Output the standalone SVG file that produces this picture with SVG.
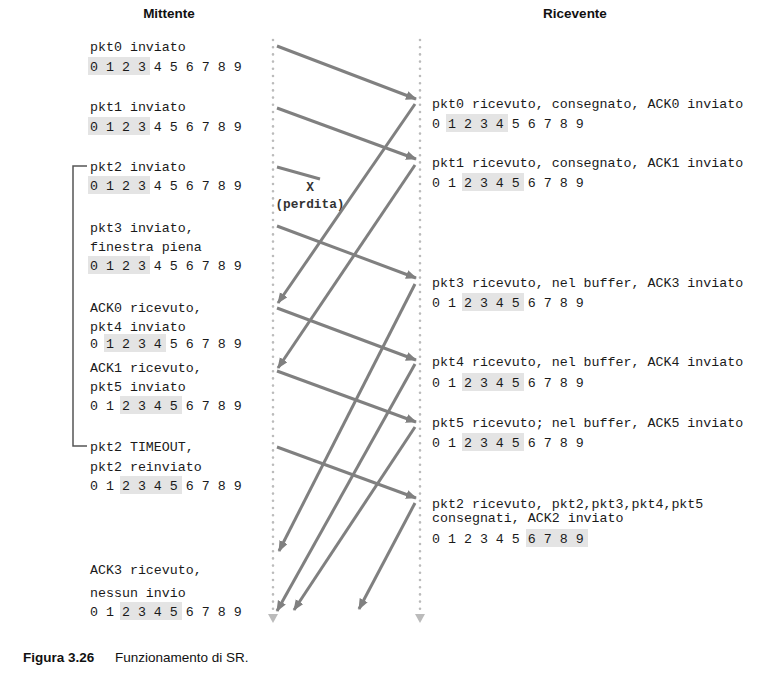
<svg xmlns="http://www.w3.org/2000/svg" width="779" height="690" viewBox="0 0 779 690">
<style>
.t{font-family:"Liberation Mono","DejaVu Sans Mono",monospace;font-size:13.3px;fill:#1a1a1a}
.h{font-family:"Liberation Sans","Open Sans",sans-serif;font-size:13.5px;font-weight:bold;fill:#111}
.c{font-family:"Liberation Sans","Open Sans",sans-serif;font-size:13.5px;fill:#111}
.box{fill:#e4e4e4}
.tl{stroke:#bbb;stroke-width:2.6;stroke-linecap:round;stroke-dasharray:0 7.2;fill:none}
.a{stroke:#808080;stroke-width:3;fill:none;marker-end:url(#ah)}
.lost{stroke:#808080;stroke-width:3;fill:none}
.br{stroke:#555;stroke-width:1.5;fill:none}
.lb{font-family:"Liberation Mono","DejaVu Sans Mono",monospace;font-size:12.8px;font-weight:bold;fill:#333}
</style>
<defs>
<marker id="ah" markerUnits="userSpaceOnUse" markerWidth="12" markerHeight="10" refX="10" refY="4.5" orient="auto">
<path d="M0,0 L11,4.5 L0,9 z" fill="#808080"/>
</marker>
<path id="tri" d="M-5,0 L5,0 L0,9 z" fill="#bbb"/>
</defs>

<g id="headers">
<text class="h" x="169" y="18" text-anchor="middle">Mittente</text>
<text class="h" x="575" y="18" text-anchor="middle">Ricevente</text>
</g>

<g id="timelines">
<line class="tl" x1="273" y1="40" x2="273" y2="610"/>
<use href="#tri" x="273" y="614"/>
<line class="tl" x1="420" y1="40" x2="420" y2="610"/>
<use href="#tri" x="420" y="614"/>
</g>

<g id="bracket">
<path class="br" d="M87,166 H73 V446 H87"/>
</g>

<g id="s-pkt0">
<rect class="box" x="88" y="57" width="62" height="18"/>
<text class="t" x="90" y="51">pkt0 inviato</text>
<text class="t" x="90" y="71">0 1 2 3 4 5 6 7 8 9</text>
</g>
<g id="s-pkt1">
<rect class="box" x="88" y="117" width="62" height="18"/>
<text class="t" x="90" y="111">pkt1 inviato</text>
<text class="t" x="90" y="131">0 1 2 3 4 5 6 7 8 9</text>
</g>
<g id="s-pkt2">
<rect class="box" x="88" y="176" width="62" height="18"/>
<text class="t" x="90" y="171">pkt2 inviato</text>
<text class="t" x="90" y="190">0 1 2 3 4 5 6 7 8 9</text>
</g>
<g id="s-pkt3">
<rect class="box" x="88" y="256" width="62" height="18"/>
<text class="t" x="90" y="232">pkt3 inviato,</text>
<text class="t" x="90" y="251">finestra piena</text>
<text class="t" x="90" y="270">0 1 2 3 4 5 6 7 8 9</text>
</g>
<g id="s-ack0">
<rect class="box" x="104" y="334" width="62" height="18"/>
<text class="t" x="90" y="312">ACK0 ricevuto,</text>
<text class="t" x="90" y="331">pkt4 inviato</text>
<text class="t" x="90" y="348">0 1 2 3 4 5 6 7 8 9</text>
</g>
<g id="s-ack1">
<rect class="box" x="120" y="396" width="62" height="18"/>
<text class="t" x="90" y="372">ACK1 ricevuto,</text>
<text class="t" x="90" y="391">pkt5 inviato</text>
<text class="t" x="90" y="410">0 1 2 3 4 5 6 7 8 9</text>
</g>
<g id="s-timeout">
<rect class="box" x="120" y="476" width="62" height="18"/>
<text class="t" x="90" y="451">pkt2 TIMEOUT,</text>
<text class="t" x="90" y="471">pkt2 reinviato</text>
<text class="t" x="90" y="490">0 1 2 3 4 5 6 7 8 9</text>
</g>
<g id="s-ack3">
<rect class="box" x="120" y="602" width="62" height="18"/>
<text class="t" x="90" y="574">ACK3 ricevuto,</text>
<text class="t" x="90" y="597">nessun invio</text>
<text class="t" x="90" y="616">0 1 2 3 4 5 6 7 8 9</text>
</g>

<g id="r-pkt0">
<rect class="box" x="446" y="114" width="62" height="18"/>
<text class="t" x="432" y="108">pkt0 ricevuto, consegnato, ACK0 inviato</text>
<text class="t" x="432" y="128">0 1 2 3 4 5 6 7 8 9</text>
</g>
<g id="r-pkt1">
<rect class="box" x="462" y="173" width="62" height="18"/>
<text class="t" x="432" y="167">pkt1 ricevuto, consegnato, ACK1 inviato</text>
<text class="t" x="432" y="187">0 1 2 3 4 5 6 7 8 9</text>
</g>
<g id="r-pkt3">
<rect class="box" x="462" y="293" width="62" height="18"/>
<text class="t" x="432" y="287">pkt3 ricevuto, nel buffer, ACK3 inviato</text>
<text class="t" x="432" y="307">0 1 2 3 4 5 6 7 8 9</text>
</g>
<g id="r-pkt4">
<rect class="box" x="462" y="373" width="62" height="18"/>
<text class="t" x="432" y="366">pkt4 ricevuto, nel buffer, ACK4 inviato</text>
<text class="t" x="432" y="387">0 1 2 3 4 5 6 7 8 9</text>
</g>
<g id="r-pkt5">
<rect class="box" x="462" y="433" width="62" height="18"/>
<text class="t" x="432" y="427">pkt5 ricevuto; nel buffer, ACK5 inviato</text>
<text class="t" x="432" y="447">0 1 2 3 4 5 6 7 8 9</text>
</g>
<g id="r-pkt2">
<rect class="box" x="526" y="529" width="62" height="18"/>
<text class="t" x="432" y="508">pkt2 ricevuto, pkt2,pkt3,pkt4,pkt5</text>
<text class="t" x="432" y="522">consegnati, ACK2 inviato</text>
<text class="t" x="432" y="543">0 1 2 3 4 5 6 7 8 9</text>
</g>

<g id="loss">
<text class="lb" x="310" y="191" text-anchor="middle">X</text>
<text class="lb" x="310" y="208" text-anchor="middle">(perdita)</text>
</g>

<g id="connectors">
<line class="a" x1="277" y1="46" x2="416" y2="99"/>
<line class="a" x1="277" y1="108" x2="416" y2="159"/>
<line class="lost" x1="277" y1="167" x2="320" y2="179"/>
<line class="a" x1="277" y1="226" x2="416" y2="278"/>
<line class="a" x1="277" y1="308" x2="416" y2="360"/>
<line class="a" x1="277" y1="371" x2="416" y2="422"/>
<line class="a" x1="277" y1="447" x2="416" y2="498"/>
<line class="a" x1="415" y1="104" x2="278" y2="303"/>
<line class="a" x1="415" y1="165" x2="278" y2="368"/>
<line class="a" x1="415" y1="284" x2="279" y2="551"/>
<line class="a" x1="415" y1="364" x2="277" y2="611"/>
<line class="a" x1="415" y1="427" x2="294" y2="610"/>
<line class="a" x1="415" y1="503" x2="359" y2="609"/>
</g>

<g id="caption">
<text class="c" x="23" y="662" font-weight="bold" font-size="14.5">Figura 3.26</text>
<text class="c" x="115" y="662">Funzionamento di SR.</text>
</g>
</svg>
